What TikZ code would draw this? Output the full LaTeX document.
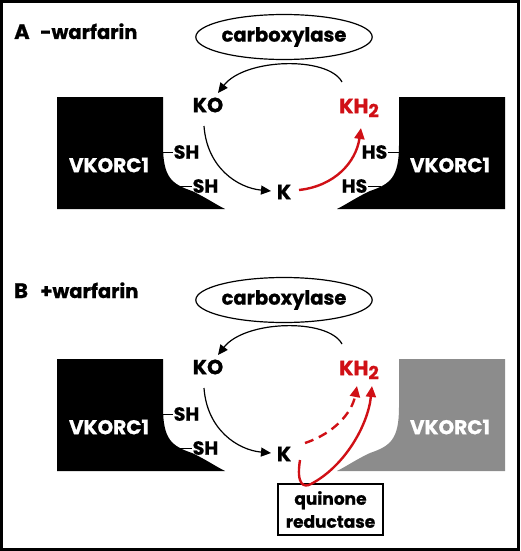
\documentclass[tikz,border=0pt]{standalone}
\usepackage{fontspec}
\setmainfont{Poppins}[BoldFeatures={FakeBold=0.8}]
\usetikzlibrary{arrows.meta,shapes.geometric}
\definecolor{kred}{RGB}{208,16,22}
\definecolor{vgray}{RGB}{140,140,140}
\begin{document}
\begin{tikzpicture}[x=1pt,y=-1pt,
  lab/.style={font=\bfseries\fontsize{20.5}{22}\selectfont, inner sep=0pt},
  sh/.style={font=\bfseries\fontsize{19}{21}\selectfont, inner sep=0.5pt},
  ttl/.style={font=\bfseries\fontsize{19.5}{22}\selectfont, inner sep=0pt, anchor=base west},
  blockname/.style={font=\bfseries\fontsize{20}{22}\selectfont, text=white, inner sep=0pt},
  enz/.style={ellipse, draw, line width=1.2pt, minimum width=155pt, minimum height=45pt, inner sep=0pt, font=\bfseries\fontsize{19.5}{22}\selectfont},
  qbox/.style={draw, line width=2.5pt, minimum width=105pt, minimum height=51pt, inner sep=0pt, align=center, font=\bfseries\fontsize{17}{23}\selectfont},
  tick/.style={line width=1pt},
  arr/.style={line width=1.2pt, -{Triangle[length=10pt,width=9pt]}},
  rarr/.style={line width=2.4pt, draw=kred, -{Triangle[length=11pt,width=10pt]}},
  rdash/.style={rarr, dash pattern=on 9pt off 6pt}
]
\useasboundingbox (0,0) rectangle (520,551);
\draw[line width=3pt] (1.5,1.5) rectangle (518.5,549.5);

%%%%% Panel A
\node[ttl, font=\bfseries\fontsize{21}{22}\selectfont] (aA) at (14,39) {A};
\node[ttl] (aT) at (40,39) {-warfarin};
\node[enz] (aC) at (284,37) {carboxylase};

\fill (57,97) -- (163,97) -- (163,145) .. controls (163,178) and (172,184) .. (192,191)
  .. controls (205,197) and (215,204) .. (225,209) -- (57,209) -- cycle;
\fill (505,97) -- (399,97) -- (399,145) .. controls (399,178) and (390,184) .. (370,191)
  .. controls (357,197) and (347,204) .. (337,209) -- (505,209) -- cycle;
\node[blockname] (aV1) at (109,165) {VKORC1};
\node[blockname] (aV2) at (450,165) {VKORC1};

\coordinate (aS1) at (163,152);
\node[sh, anchor=west] (aSH1) at (173,152) {SH};
\draw[tick] (aS1) -- (aSH1.west);
\coordinate (aS2) at (180,186);
\node[sh, anchor=west] (aSH2) at (192,186) {SH};
\draw[tick] (aS2) -- (aSH2.west);
\coordinate (aH1) at (399,152);
\node[sh, anchor=east] (aHS1) at (388,152) {HS};
\draw[tick] (aH1) -- (aHS1.east);
\coordinate (aH2) at (381,186);
\node[sh, anchor=east] (aHS2) at (368,186) {HS};
\draw[tick] (aH2) -- (aHS2.east);

\node[lab] (aKO) at (208,105) {KO};
\node[lab] (aK) at (284,192) {K};
\node[lab, text=kred] (aKH) at (359,108) {KH\raisebox{-4pt}{\fontsize{18}{20}\selectfont 2}};

\coordinate (a1s) at (204,126); \coordinate (a1e) at (271,191);
\draw[arr] (a1s) .. controls (207,168) and (238,188) .. (a1e);
\coordinate (a2s) at (299,190); \coordinate (a2e) at (361,128);
\draw[rarr] (a2s) .. controls (335,186) and (356,162) .. (a2e);
\coordinate (a3s) at (342,82); \coordinate (a3e) at (218,93);
\draw[arr] (a3s) .. controls (328,56) and (245,58) .. (a3e);

%%%%% Panel B
\node[ttl, font=\bfseries\fontsize{21}{22}\selectfont] (bB) at (14,298) {B};
\node[ttl] (bT) at (40,298) {+warfarin};
\node[enz] (bC) at (284,300) {carboxylase};

\fill (57,359) -- (163,359) -- (163,407) .. controls (163,440) and (172,446) .. (192,453)
  .. controls (205,459) and (215,466) .. (225,471) -- (57,471) -- cycle;
\fill[vgray] (505,359) -- (399,359) -- (399,407) .. controls (399,440) and (390,446) .. (370,453)
  .. controls (357,459) and (347,466) .. (337,471) -- (505,471) -- cycle;
\node[blockname] (bV1) at (109,427) {VKORC1};
\node[blockname] (bV2) at (450,427) {VKORC1};

\coordinate (bS1) at (163,414);
\node[sh, anchor=west] (bSH1) at (173,414) {SH};
\draw[tick] (bS1) -- (bSH1.west);
\coordinate (bS2) at (180,448);
\node[sh, anchor=west] (bSH2) at (192,448) {SH};
\draw[tick] (bS2) -- (bSH2.west);

\node[lab] (bKO) at (208,367) {KO};
\node[lab] (bK) at (284,454) {K};
\node[lab, text=kred] (bKH) at (359,370) {KH\raisebox{-4pt}{\fontsize{18}{20}\selectfont 2}};

\node[qbox] (bQ) at (330.5,509.5) {quinone\\reductase};

\coordinate (b1s) at (204,388); \coordinate (b1e) at (271,453);
\draw[arr] (b1s) .. controls (207,430) and (238,450) .. (b1e);
\coordinate (b3s) at (342,344); \coordinate (b3e) at (218,355);
\draw[arr] (b3s) .. controls (328,318) and (245,320) .. (b3e);
\coordinate (b2s) at (305,443); \coordinate (b2e) at (357,386);
\draw[rdash] (b2s) .. controls (335,433) and (352,412) .. (b2e);
\coordinate (b4s) at (300,460); \coordinate (b4m) at (311,484); \coordinate (b4e) at (372,386);
\draw[rarr] (b4s) .. controls (296,485) and (304,488) .. (b4m) .. controls (345,466) and (368,425) .. (b4e);
\end{tikzpicture}
\end{document}
